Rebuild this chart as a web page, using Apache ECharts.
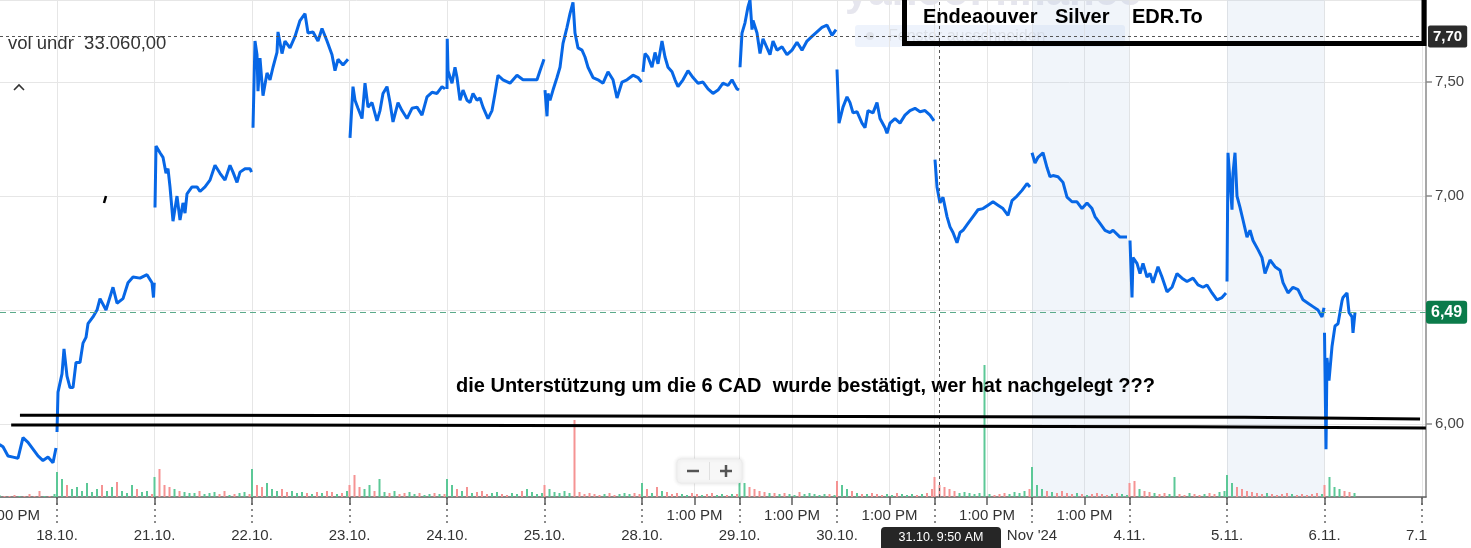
<!DOCTYPE html>
<html>
<head>
<meta charset="utf-8">
<script src="https://cdn.jsdelivr.net/npm/echarts@6.0.0/dist/echarts.min.js"></script>
<style>
html,body{margin:0;padding:0;background:#fff;}
#chart{width:1471px;height:548px;}
</style>
</head>
<body>
<div id="chart"></div>
<script>
// ---------- DATA ----------
// trading days (index = position on the trading-day axis)
const dayLabels = ['17.10.', '18.10.', '21.10.', '22.10.', '23.10.', '24.10.', '25.10.', '28.10.', '29.10.', '30.10.', '31.10.', "Nov '24", '4.11.', '5.11.', '6.11.', '7.11.'];
const sessionMinutes = 390;     // 9:30 AM - 4:00 PM
const volumeStepMinutes = 20;   // one volume bar every 20 minutes
const pmTickMinutes = 210;      // 1:00 PM
const pmTickDays = [7, 8, 9, 10, 11];
const pmLabelDays = [0, 7, 8, 9, 10, 11];
const shadedDays = [11, 13];
const crosshairDay = 10, crosshairMinutes = 20;   // 31.10. 9:50 AM

// price readings per day: [minutes after open, price CAD]
const t1710 = [[160, 5.91], [174, 5.90], [194, 5.86], [214, 5.855], [234, 5.85], [254, 5.94], [274, 5.92], [294, 5.89], [314, 5.86], [334, 5.84], [354, 5.855], [374, 5.83], [386, 5.895]];
const t1810 = [[0, 5.965], [4, 6.14], [20, 6.22], [28, 6.33], [40, 6.21], [52, 6.16], [64, 6.16], [76, 6.27], [92, 6.27], [104, 6.355], [116, 6.38], [124, 6.44], [144, 6.47], [160, 6.50], [172, 6.55], [196, 6.50], [224, 6.60], [240, 6.53], [264, 6.55], [284, 6.62], [304, 6.645], [332, 6.64], [360, 6.655], [380, 6.62], [386, 6.555], [389, 6.62]];
const t2110 = [[2, 6.95], [6, 7.22], [22, 7.19], [34, 7.17], [46, 7.10], [54, 7.12], [62, 7.04], [74, 6.89], [90, 7.00], [102, 6.895], [114, 6.97], [122, 6.925], [130, 7.01], [150, 7.04], [170, 7.04], [182, 7.02], [202, 7.04], [222, 7.07], [242, 7.135], [262, 7.10], [282, 7.07], [302, 7.135], [314, 7.105], [330, 7.06], [342, 7.105], [362, 7.12], [382, 7.12], [388, 7.105]];
const t2210 = [[4, 7.30], [12, 7.68], [20, 7.62], [24, 7.46], [32, 7.605], [44, 7.44], [60, 7.54], [72, 7.51], [84, 7.565], [100, 7.63], [104, 7.72], [120, 7.625], [132, 7.68], [152, 7.65], [172, 7.70], [192, 7.77], [212, 7.80], [224, 7.715], [244, 7.72], [264, 7.68], [280, 7.735], [300, 7.68], [320, 7.62], [332, 7.55], [344, 7.60], [364, 7.575], [384, 7.60]];
const t2310 = [[2, 7.255], [14, 7.48], [22, 7.42], [34, 7.385], [50, 7.34], [62, 7.495], [74, 7.39], [90, 7.41], [110, 7.33], [122, 7.375], [134, 7.45], [150, 7.48], [162, 7.41], [174, 7.325], [194, 7.41], [210, 7.375], [230, 7.34], [250, 7.385], [270, 7.39], [290, 7.355], [310, 7.435], [330, 7.455], [350, 7.45], [370, 7.48], [382, 7.47]];
const t2410 = [[0, 7.47], [1, 7.69], [4, 7.55], [20, 7.495], [32, 7.565], [40, 7.52], [52, 7.42], [64, 7.465], [80, 7.42], [92, 7.41], [104, 7.45], [120, 7.42], [132, 7.43], [144, 7.39], [164, 7.34], [180, 7.375], [192, 7.45], [204, 7.53], [224, 7.51], [252, 7.495], [280, 7.53], [304, 7.51], [332, 7.51], [360, 7.51], [372, 7.55], [388, 7.60]];
const t2510 = [[2, 7.465], [10, 7.35], [14, 7.45], [22, 7.42], [34, 7.465], [50, 7.52], [62, 7.565], [74, 7.67], [90, 7.74], [102, 7.80], [114, 7.85], [122, 7.715], [134, 7.65], [150, 7.64], [162, 7.61], [174, 7.565], [194, 7.52], [214, 7.51], [234, 7.495], [254, 7.545], [274, 7.51], [290, 7.43], [310, 7.50], [330, 7.51], [354, 7.53], [374, 7.52], [388, 7.50]];
const t2810 = [[4, 7.545], [12, 7.625], [24, 7.61], [40, 7.565], [52, 7.63], [64, 7.58], [80, 7.68], [92, 7.61], [104, 7.565], [120, 7.545], [132, 7.51], [144, 7.48], [164, 7.51], [184, 7.55], [204, 7.52], [224, 7.495], [244, 7.50], [264, 7.47], [284, 7.45], [304, 7.465], [324, 7.495], [344, 7.485], [360, 7.51], [380, 7.47], [388, 7.465]];
const t2910 = [[2, 7.565], [10, 7.715], [22, 7.76], [34, 7.83], [42, 7.86], [50, 7.73], [54, 7.77], [70, 7.715], [82, 7.625], [94, 7.69], [110, 7.65], [122, 7.62], [134, 7.68], [150, 7.64], [170, 7.655], [190, 7.62], [210, 7.64], [230, 7.675], [250, 7.64], [270, 7.68], [290, 7.70], [310, 7.72], [330, 7.74], [350, 7.75], [370, 7.705], [386, 7.73]];
const t3010 = [[0, 7.555], [8, 7.32], [24, 7.39], [40, 7.435], [52, 7.41], [64, 7.365], [80, 7.37], [100, 7.32], [112, 7.30], [124, 7.375], [144, 7.365], [160, 7.41], [172, 7.34], [192, 7.30], [200, 7.275], [212, 7.32], [232, 7.34], [252, 7.32], [272, 7.355], [292, 7.375], [312, 7.385], [332, 7.37], [352, 7.375], [372, 7.355], [388, 7.33]];
const t3110 = [[2, 7.16], [10, 7.04], [22, 6.97], [34, 6.995], [50, 6.91], [62, 6.865], [74, 6.84], [90, 6.795], [102, 6.84], [114, 6.85], [134, 6.88], [154, 6.91], [174, 6.94], [194, 6.945], [214, 6.96], [234, 6.975], [254, 6.96], [274, 6.945], [294, 6.915], [310, 6.98], [330, 7.00], [350, 7.025], [370, 7.055], [382, 7.04]];
const t0111 = [[0, 7.19], [12, 7.145], [24, 7.17], [44, 7.19], [60, 7.125], [72, 7.085], [84, 7.09], [104, 7.085], [124, 7.06], [140, 6.995], [160, 6.975], [180, 6.975], [200, 6.945], [220, 6.97], [240, 6.945], [252, 6.91], [272, 6.88], [292, 6.85], [312, 6.84], [324, 6.85], [352, 6.82], [380, 6.82]];
const t0411 = [[2, 6.805], [10, 6.555], [14, 6.73], [30, 6.705], [42, 6.66], [54, 6.705], [70, 6.645], [82, 6.66], [94, 6.62], [114, 6.69], [130, 6.645], [150, 6.58], [170, 6.60], [190, 6.66], [210, 6.64], [230, 6.625], [254, 6.64], [274, 6.61], [294, 6.60], [310, 6.61], [330, 6.575], [350, 6.545], [370, 6.555], [386, 6.575]];
const t0511 = [[0, 6.625], [4, 7.19], [20, 6.94], [24, 7.10], [32, 7.19], [40, 7.00], [52, 6.95], [64, 6.895], [80, 6.82], [92, 6.85], [104, 6.805], [124, 6.765], [140, 6.73], [152, 6.66], [172, 6.72], [192, 6.69], [212, 6.675], [224, 6.62], [244, 6.575], [264, 6.60], [284, 6.59], [304, 6.545], [324, 6.53], [344, 6.515], [364, 6.50], [380, 6.47], [388, 6.51]];
const t0611 = [[0, 6.40], [6, 5.89], [10, 6.29], [18, 6.19], [30, 6.34], [42, 6.43], [54, 6.44], [70, 6.54], [74, 6.555], [90, 6.575], [98, 6.49], [110, 6.47], [114, 6.40], [122, 6.49]];

// volume (thousands of shares), one bar per 20 minutes
const v1710 = [null, null, null, null, null, null, null, null, 2, 1, 1, 2, 1, 1, 3, 1, 6, 1, 1, 3];
const v1810 = [25, 18, 12, 8, 10, 6, 14, 5, 8, 12, 6, 10, 15, 6, 4, 12, 8, 5, 6, 3];
const v2110 = [20, 28, 12, 10, 8, 6, 5, 4, 4, 6, 3, 4, 5, 3, 6, 2, 3, 4, 5, 3];
const v2210 = [28, 12, 10, 14, 8, 6, 8, 5, 6, 4, 5, 4, 3, 5, 4, 6, 5, 3, 4, 6];
const v2310 = [12, 22, 10, 8, 12, 6, 18, 5, 4, 6, 3, 4, 5, 3, 4, 2, 3, 4, 3, 3];
const v2410 = [18, 12, 8, 6, 10, 4, 5, 6, 3, 4, 5, 3, 2, 4, 3, 6, 8, 5, 3, 4];
const v2510 = [12, 8, 5, 4, 6, 4, 77, 5, 3, 4, 3, 2, 3, 4, 2, 3, 4, 3, 4, 3];
const v2810 = [14, 8, 4, 10, 6, 5, 3, 4, 3, 2, 4, 3, 2, 3, 4, 2, 3, 2, 3, 3];
const v2910 = [18, 14, 10, 8, 6, 5, 4, 4, 3, 4, 3, 2, 5, 3, 4, 3, 2, 3, 3, 2];
const v3010 = [16, 12, 8, 6, 4, 3, 3, 4, 3, 2, 3, 2, 4, 3, 2, 3, 2, 3, 4, 8];
const v3110 = [20, 12, 10, 8, 6, 4, 5, 4, 3, 4, 132, 3, 2, 3, 4, 3, 5, 4, 6, 8];
const v0111 = [30, 12, 8, 6, 5, 4, 6, 4, 3, 4, 3, 2, 3, 4, 3, 2, 3, 4, 3, 2];
const v0411 = [14, 16, 8, 6, 5, 4, 3, 4, 3, 20, 3, 2, 4, 3, 2, 3, 4, 3, 5, 6];
const v0511 = [22, 14, 10, 8, 6, 5, 4, 3, 4, 3, 2, 3, 4, 3, 2, 3, 2, 3, 4, 3];
const v0611 = [12, 20, 10, 8, 6, 5, 4];

// hand-drawn support lines (day position, price)
const supportUpper = [[0.62, 6.039], [2.44, 6.039], [2.44, 6.035], [13.18, 6.030], [13.18, 6.022], [14.98, 6.022]];
const supportLower = [[0.53, 5.996], [2.96, 5.996], [2.96, 5.991], [12.64, 5.988], [12.64, 5.983], [15.04, 5.983]];

const crosshairPrice = 7.70;
const lastPrice = 6.49;
const priceAxisMin = 5.68, priceAxisMax = 7.86;
const dayAxisMin = 0.4154, dayAxisMax = 15.041;

// ---------- BUILD ----------
const priceDays = [t1710, t1810, t2110, t2210, t2310, t2410, t2510, t2810, t2910, t3010, t3110, t0111, t0411, t0511, t0611];
const volDays = [v1710, v1810, v2110, v2210, v2310, v2410, v2510, v2810, v2910, v3010, v3110, v0111, v0411, v0511, v0611];

const priceData = [];
priceDays.forEach(function (arr, d) {
  arr.forEach(function (p) { priceData.push([d + p[0] / sessionMinutes, p[1]]); });
  priceData.push([d + 0.999, '-']);
});

function priceAt(d, minute) {
  const arr = priceDays[d];
  let v = arr[0][1];
  for (let i = 0; i < arr.length; i++) { if (arr[i][0] <= minute) v = arr[i][1]; }
  return v;
}
const volData = [];
let prevP = null;
volDays.forEach(function (arr, d) {
  arr.forEach(function (vol, k) {
    if (vol == null) return;
    const m = k * volumeStepMinutes;
    const p = priceAt(d, m + volumeStepMinutes - 1);
    const up = prevP == null || p >= prevP;
    volData.push({ value: [d + m / sessionMinutes, vol], itemStyle: { color: up ? '#5cc897' : '#f59393' } });
    prevP = p;
  });
});

const dayTicks = [];
for (let d = 1; d < dayLabels.length; d++) dayTicks.push(d);
const pmTicks = pmTickDays.map(d => d + pmTickMinutes / sessionMinutes);
const pmLabels = pmLabelDays.map(d => d + pmTickMinutes / sessionMinutes);
const crossX = crosshairDay + crosshairMinutes / sessionMinutes;

const FONT = '"Liberation Sans", Arial, sans-serif';

const chart = echarts.init(document.getElementById('chart'));
chart.setOption({
  animation: false,
  backgroundColor: '#ffffff',
  grid: [
    { left: 0, right: 45, top: 0, bottom: 51, containLabel: false, outerBoundsMode: 'none' },
    { left: 0, right: 45, top: 360, bottom: 51, containLabel: false, outerBoundsMode: 'none' }
  ],
  xAxis: [
    {
      type: 'value', gridIndex: 0, min: dayAxisMin, max: dayAxisMax, position: 'bottom',
      axisLine: { show: true, lineStyle: { color: '#5f5f5f', width: 1.5 } },
      axisTick: { show: true, customValues: dayTicks.concat(pmTicks), length: 8, lineStyle: { color: '#5f5f5f', width: 1.5 } },
      axisLabel: {
        show: true, customValues: dayTicks.concat(pmLabels), color: '#333', fontSize: 15, lineHeight: 20, margin: 9,
        fontFamily: FONT,
        formatter: function (v) {
          const r = Math.round(v);
          if (Math.abs(v - r) < 1e-6) return '\n' + dayLabels[r];
          return '1:00 PM';
        }
      },
      splitLine: { show: true, lineStyle: { color: '#e6e6e6', width: 1 } }
    },
    {
      type: 'value', gridIndex: 1, min: dayAxisMin, max: dayAxisMax, position: 'bottom',
      axisLine: { show: false },
      axisTick: { show: true, customValues: dayTicks, length: 27, lineStyle: { color: '#666', width: 1.5, type: [2, 4] } },
      axisLabel: { show: false },
      splitLine: { show: false }
    }
  ],
  yAxis: [
    {
      type: 'value', gridIndex: 0, position: 'right', min: priceAxisMin, max: priceAxisMax, splitNumber: 5,
      axisLine: { show: true, lineStyle: { color: '#8a8a8a', width: 1.5 } },
      axisTick: { show: true, length: 6, lineStyle: { color: '#8a8a8a', width: 1.5 } },
      axisLabel: {
        color: '#454545', fontSize: 15, margin: 9, fontFamily: FONT, showMinLabel: false, showMaxLabel: false,
        formatter: function (v) {
          if (Math.abs(v - 6.5) < 1e-6) return '';
          return v.toFixed(2).replace('.', ',');
        }
      },
      splitLine: { show: true, lineStyle: { color: '#e6e6e6', width: 1 } }
    },
    { type: 'value', gridIndex: 1, min: 0, max: 137, show: false }
  ],
  series: [
    {
      name: 'Volume', type: 'bar', xAxisIndex: 1, yAxisIndex: 1, data: volData, barWidth: 2, z: 1, silent: true
    },
    {
      name: 'EDR.TO', type: 'line', xAxisIndex: 0, yAxisIndex: 0, data: priceData, showSymbol: false, symbol: 'none',
      connectNulls: false, lineStyle: { color: '#0767e6', width: 3 }, z: 4, silent: true,
      markArea: {
        silent: true,
        itemStyle: { color: 'rgba(190,208,232,0.22)' },
        data: shadedDays.map(d => [{ xAxis: d }, { xAxis: d + 1 }])
      },
      markLine: {
        silent: true, symbol: 'none', animation: false,
        data: [
          {
            yAxis: crosshairPrice,
            lineStyle: { color: '#555', type: [3, 3], width: 1 },
            label: {
              show: true, position: 'end', distance: 2, formatter: crosshairPrice.toFixed(2).replace('.', ','),
              backgroundColor: '#2b2b2b', color: '#fff', fontWeight: 'bold', fontSize: 15, fontFamily: FONT,
              padding: [4, 5, 3, 5], borderRadius: 2
            }
          },
          {
            yAxis: lastPrice,
            lineStyle: { color: '#5aaa8a', type: [6, 4], width: 1.2 },
            label: {
              show: true, position: 'end', distance: 0, formatter: lastPrice.toFixed(2).replace('.', ','),
              backgroundColor: '#0b7b4a', color: '#fff', fontWeight: 'bold', fontSize: 16, fontFamily: FONT,
              padding: [4, 5, 3, 5], borderRadius: 3
            }
          },
          {
            xAxis: crossX,
            lineStyle: { color: '#555', type: [3, 3], width: 1 },
            label: { show: false }
          }
        ]
      }
    },
    {
      name: 'support upper', type: 'line', xAxisIndex: 0, yAxisIndex: 0, data: supportUpper, symbol: 'none',
      lineStyle: { color: '#000', width: 3 }, z: 6, silent: true
    },
    {
      name: 'support lower', type: 'line', xAxisIndex: 0, yAxisIndex: 0, data: supportLower, symbol: 'none',
      lineStyle: { color: '#000', width: 3 }, z: 6, silent: true
    }
  ],
  graphic: [
    // faint watermark
    { type: 'text', z: 0, silent: true, style: { x: 845, y: 14, text: 'yahoo! finance', font: 'bold 42px ' + FONT, fill: '#e6e6ee', verticalAlign: 'bottom' } },
    // faint "Fenster ausschneiden" pill
    { type: 'rect', z: 0, silent: true, shape: { x: 855, y: 25, width: 270, height: 22, r: 3 }, style: { fill: '#eef3fc' } },
    { type: 'circle', z: 0, silent: true, shape: { cx: 870, cy: 36, r: 4 }, style: { fill: '#dfe3ea' } },
    { type: 'text', z: 0, silent: true, style: { x: 888, y: 37, text: 'Fenster ausschneiden', font: '16px ' + FONT, fill: '#dde1e8', verticalAlign: 'middle' } },
    // info text
    { type: 'text', z: 50, silent: true, style: { x: 8, y: 44, text: 'vol undr  33.060,00', font: '18.5px ' + FONT, fill: '#333', verticalAlign: 'middle' } },
    { type: 'polyline', z: 50, silent: true, shape: { points: [[14, 90], [19, 85], [24, 90]] }, style: { stroke: '#333', lineWidth: 1.6, fill: null } },
    { type: 'line', z: 50, silent: true, shape: { x1: 106, y1: 196, x2: 104, y2: 203 }, style: { stroke: '#000', lineWidth: 2.5 } },
    // title box
    { type: 'rect', z: 60, silent: true, shape: { x: 904.5, y: -10, width: 519.5, height: 53.5 }, style: { fill: null, stroke: '#000', lineWidth: 5 } },
    { type: 'text', z: 61, silent: true, style: { x: 923, y: 17, text: 'Endeaouver', font: 'bold 20px ' + FONT, fill: '#000', verticalAlign: 'middle' } },
    { type: 'text', z: 61, silent: true, style: { x: 1055, y: 17, text: 'Silver', font: 'bold 20px ' + FONT, fill: '#000', verticalAlign: 'middle' } },
    { type: 'text', z: 61, silent: true, style: { x: 1132, y: 17, text: 'EDR.To', font: 'bold 20px ' + FONT, fill: '#000', verticalAlign: 'middle' } },
    // annotation
    { type: 'text', z: 61, silent: true, style: { x: 456, y: 386, text: 'die Unterstützung um die 6 CAD  wurde bestätigt, wer hat nachgelegt ???', font: 'bold 20px ' + FONT, fill: '#000', verticalAlign: 'middle' } },
    // zoom control
    { type: 'rect', z: 55, silent: true, shape: { x: 677, y: 459, width: 65, height: 24, r: 4 }, style: { fill: '#f7f7f7', stroke: '#ececec', lineWidth: 1, shadowBlur: 4, shadowColor: 'rgba(0,0,0,0.12)' } },
    { type: 'line', z: 56, silent: true, shape: { x1: 709.5, y1: 462, x2: 709.5, y2: 480 }, style: { stroke: '#e0e0e0', lineWidth: 1 } },
    { type: 'line', z: 56, silent: true, shape: { x1: 687, y1: 471, x2: 699, y2: 471 }, style: { stroke: '#555', lineWidth: 2.5 } },
    { type: 'line', z: 56, silent: true, shape: { x1: 720, y1: 471, x2: 732, y2: 471 }, style: { stroke: '#555', lineWidth: 2.5 } },
    { type: 'line', z: 56, silent: true, shape: { x1: 726, y1: 465, x2: 726, y2: 477 }, style: { stroke: '#555', lineWidth: 2.5 } },
    // cover right of axis below the plot (clips last date label)
    { type: 'rect', z: 70, silent: true, shape: { x: 1427, y: 499, width: 44, height: 49 }, style: { fill: '#fff' } },
    // crosshair date label
    { type: 'rect', z: 80, silent: true, shape: { x: 881, y: 527, width: 120, height: 26, r: 4 }, style: { fill: '#262626' } },
    { type: 'text', z: 81, silent: true, style: { x: 941, y: 538, text: '31.10. 9:50 AM', font: '12.5px ' + FONT, fill: '#fff', align: 'center', verticalAlign: 'middle' } }
  ]
});
</script>
</body>
</html>
